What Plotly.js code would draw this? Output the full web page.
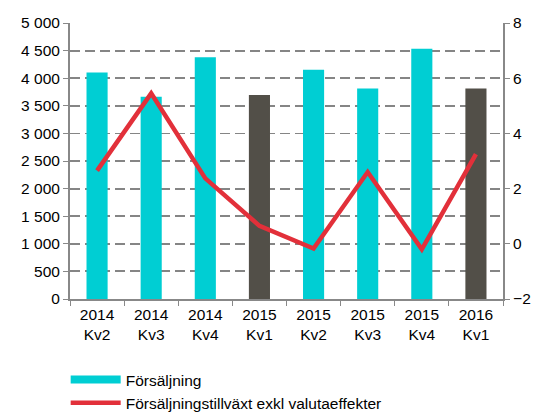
<!DOCTYPE html>
<html><head><meta charset="utf-8">
<script src="https://cdn.plot.ly/plotly-3.0.1.min.js"></script>
<style>html,body{margin:0;padding:0;background:#fff}#chart{width:533px;height:412px}</style>
</head><body><div id="chart"></div>
<script>
const categories = ["2014<br>Kv2","2014<br>Kv3","2014<br>Kv4","2015<br>Kv1","2015<br>Kv2","2015<br>Kv3","2015<br>Kv4","2016<br>Kv1"];
const sales = [4105, 3665, 4380, 3695, 4155, 3815, 4535, 3815];
const growth = [2.65, 5.45, 2.37, 0.65, -0.17, 2.6, -0.2, 3.25];
const barColors = ["#00CED3","#00CED3","#00CED3","#524F48","#00CED3","#00CED3","#00CED3","#524F48"];
const salesName = "Försäljning";
const growthName = "Försäljningstillväxt exkl valutaeffekter";

const traces = [
  {type:"bar", x:categories, y:sales, marker:{color:barColors}, width:0.39, showlegend:false, name:salesName, hoverinfo:"skip"},
  {type:"scatter", mode:"lines", x:[null], y:[null], name:salesName, line:{color:"#00CED3", width:8}, showlegend:true},
  {type:"scatter", mode:"lines", x:categories, y:growth, yaxis:"y2", name:growthName, line:{color:"#E2303A", width:4.5}}
];
const font = {family:"Liberation Sans, Arial, sans-serif", size:15.5, color:"#000"};
const layout = {
  width:533, height:412,
  margin:{l:70, r:30, t:23, b:113, autoexpand:false},
  paper_bgcolor:"#fff", plot_bgcolor:"#fff",
  font:font,
  separators:", ",
  showlegend:true,
  legend:{x:-0.01, y:-0.232, xanchor:"left", yanchor:"top", font:{family:font.family, size:15.5, color:"#000"}, itemwidth:50, tracegroupgap:0, bgcolor:"rgba(0,0,0,0)"},
  xaxis:{type:"category", tickson:"boundaries", ticks:"outside", ticklen:5, tickcolor:"#888", showline:true, linecolor:"#888", linewidth:2, showgrid:false, tickfont:font, tickangle:0, fixedrange:true},
  yaxis:{range:[0,5000], tickvals:[0,500,1000,1500,2000,2500,3000,3500,4000,4500,5000], tickformat:",d", ticks:"outside", ticklen:5, tickcolor:"#888", showline:true, linecolor:"#888", linewidth:2, showgrid:true, gridcolor:"#858585", griddash:"10px,5px", gridwidth:1.8, zeroline:false, tickfont:font},
  yaxis2:{range:[-2,8], dtick:2, overlaying:"y", side:"right", ticks:"outside", ticklen:5, tickcolor:"#888", showline:true, linecolor:"#888", linewidth:2, showgrid:false, zeroline:false, tickfont:font}
};
Plotly.newPlot("chart", traces, layout, {displayModeBar:false, staticPlot:true});
</script></body></html>
